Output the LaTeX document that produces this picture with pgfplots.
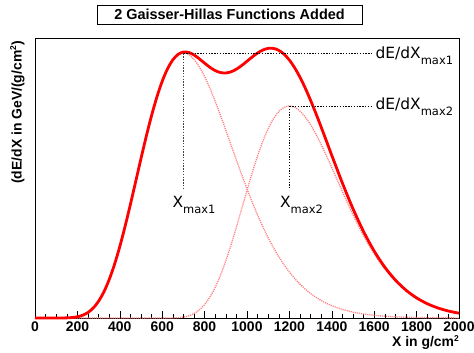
\documentclass[border=0pt]{standalone}
\usepackage{fontspec}
\setmainfont{Liberation Sans}
\newfontfamily\dejavu{DejaVu Sans}
\usepackage{pgfplots}
\pgfplotsset{compat=1.18}
\newcommand{\annot}[2]{{\dejavu\fontsize{15.5}{16}\selectfont #1\raisebox{-5.8bp}{\fontsize{11.5}{12}\selectfont #2}}}
\definecolor{pinkc}{RGB}{255,125,125}
\begin{document}
\begin{tikzpicture}
\path[use as bounding box] (-35bp,-35bp) rectangle (439bp,318bp);
\begin{axis}[at={(0,0)}, anchor=south west, scale only axis,
  width=424bp, height=279bp,
  xmin=0, xmax=2000, ymin=0, ymax=279, clip=false,
  axis line style={line width=1bp},
  xtick={0,200,...,2000}, minor x tick num=3, ytick=\empty,
  xtick pos=bottom, tick align=inside,
  major tick length=7bp, minor tick length=4bp,
  tick style={black, line width=0.6bp},
  /pgf/number format/assume math mode=true,
  /pgf/number format/set thousands separator={},
  xticklabel style={font=\bfseries\fontsize{14}{14}\selectfont},
]
% component 1
\addplot[pinkc, line width=1.3bp, dash pattern=on 1.1bp off 1bp, smooth] coordinates {
(0,0) (50,0) (100,0.005) (150,0.14) (175,0.46) (200,1.22) (225,2.76) (250,5.54) (275,10.05)
(300,16.80) (325,26.16) (350,38.42) (375,53.58) (400,71.47) (425,91.69) (450,113.62) (475,136.51)
(500,159.52) (525,181.80) (550,202.55) (575,221.04) (600,236.70) (625,249.10) (650,258.00) (675,263.27)
(700,265.00) (725,263.35) (750,258.62) (775,251.17) (800,241.40) (825,229.76) (850,216.68) (875,202.59)
(900,187.86) (925,172.87) (950,157.93) (975,143.27) (1000,129.12) (1025,115.65) (1050,102.97) (1075,91.15)
(1100,80.26) (1125,70.31) (1150,61.28) (1175,53.17) (1200,45.93) (1225,39.50) (1250,33.82) (1275,28.84)
(1300,24.50) (1325,20.74) (1350,17.49) (1375,14.70) (1400,12.32) (1450,8.57) (1500,5.89) (1550,4.00) (1600,2.69)
(1650,1.79) (1700,1.18) (1750,0.77) (1800,0.50) (1850,0.32) (1900,0.21) (1950,0.13) (2000,0.08)};
% component 2
\addplot[pinkc, line width=1.3bp, dash pattern=on 1.1bp off 1bp, smooth] coordinates {
(0,0) (500,0) (600,0) (650,0.11) (675,0.37) (700,0.97) (725,2.21) (750,4.43) (775,8.04)
(800,13.44) (825,20.93) (850,30.74) (875,42.86) (900,57.18) (925,73.35) (950,90.89) (975,109.21)
(1000,127.62) (1025,145.44) (1050,162.04) (1075,176.83) (1100,189.36) (1125,199.28) (1150,206.40) (1175,210.62)
(1200,212.00) (1225,210.68) (1250,206.90) (1275,200.94) (1300,193.12) (1325,183.81) (1350,173.34) (1375,162.07)
(1400,150.29) (1425,138.29) (1450,126.34) (1475,114.62) (1500,103.30) (1525,92.52) (1550,82.37) (1575,72.92)
(1600,64.21) (1625,56.25) (1650,49.03) (1675,42.54) (1700,36.75) (1725,31.60) (1750,27.06) (1775,23.07)
(1800,19.60) (1850,13.99) (1900,9.86) (1950,6.85) (2000,4.71)};
% sum
\addplot[red, line width=2.8bp, smooth] coordinates {
(0,0) (50,0) (100,0.01) (150,0.14) (175,0.46) (200,1.22) (225,2.76) (250,5.54) (275,10.05)
(300,16.80) (325,26.16) (350,38.42) (375,53.58) (400,71.47) (425,91.69) (450,113.62) (475,136.51)
(500,159.52) (525,181.80) (550,202.55) (575,221.04) (600,236.70) (625,249.13) (650,258.11) (675,263.64)
(700,265.97) (725,265.56) (750,263.05) (775,259.21) (800,254.84) (825,250.69) (850,247.42) (875,245.45)
(900,245.04) (925,246.22) (950,248.82) (975,252.48) (1000,256.74) (1025,261.09) (1050,265.01) (1075,267.98)
(1100,269.62) (1125,269.59) (1150,267.68) (1175,263.79) (1200,257.93) (1225,250.18) (1250,240.72) (1275,229.78)
(1300,217.62) (1325,204.55) (1350,190.83) (1375,176.77) (1400,162.61) (1450,134.91) (1500,109.19) (1550,86.37)
(1600,66.90) (1650,50.82) (1700,37.93) (1750,27.83) (1800,20.10) (1850,14.31) (1900,10.07) (1950,6.98) (2000,4.79)};
% annotation lines
\draw[black, line width=0.8bp, dash pattern=on 1.3bp off 1.5bp] (axis cs:700,264.5) -- (axis cs:1585,264.5);
\draw[black, line width=0.8bp, dash pattern=on 1.3bp off 1.5bp] (axis cs:1200,212) -- (axis cs:1585,212);
\draw[black!75, line width=0.8bp, dash pattern=on 1.3bp off 1.5bp] (axis cs:700,264.5) -- (axis cs:700,128);
\draw[black, line width=0.8bp, dash pattern=on 1.3bp off 1.5bp] (axis cs:1200,212) -- (axis cs:1200,128);
\node[anchor=base west, inner sep=0pt] at (axis cs:1606,259.7) {\annot{dE/dX}{max1}};
\node[anchor=base west, inner sep=0pt] at (axis cs:1606,208) {\annot{dE/dX}{max2}};
\node[anchor=base west, inner sep=0pt] at (axis cs:648,110.7) {\annot{X}{max1}};
\node[anchor=base west, inner sep=0pt] at (axis cs:1155,110.7) {\annot{X}{max2}};
\end{axis}
% title
\node[draw, line width=0.8bp, minimum width=265bp, minimum height=19bp, inner sep=0pt,
  font=\bfseries\fontsize{14.5}{15}\selectfont] at (194.5bp,303.2bp) {2 Gaisser-Hillas Functions Added};
% x label
\node[anchor=base east, inner sep=0pt, font=\bfseries\fontsize{14}{14}\selectfont] at (424bp,-28.7bp)
  {X in g/cm\raisebox{5.5bp}{\fontsize{8.5}{9}\selectfont 2}};
% y label
\node[rotate=90, anchor=base east, inner sep=0pt, font=\bfseries\fontsize{14}{14}\selectfont] at (-13.5bp,277bp)
  {(dE/dX in GeV/(g/cm\raisebox{5.5bp}{\fontsize{8.5}{9}\selectfont 2})};
\end{tikzpicture}
\end{document}
